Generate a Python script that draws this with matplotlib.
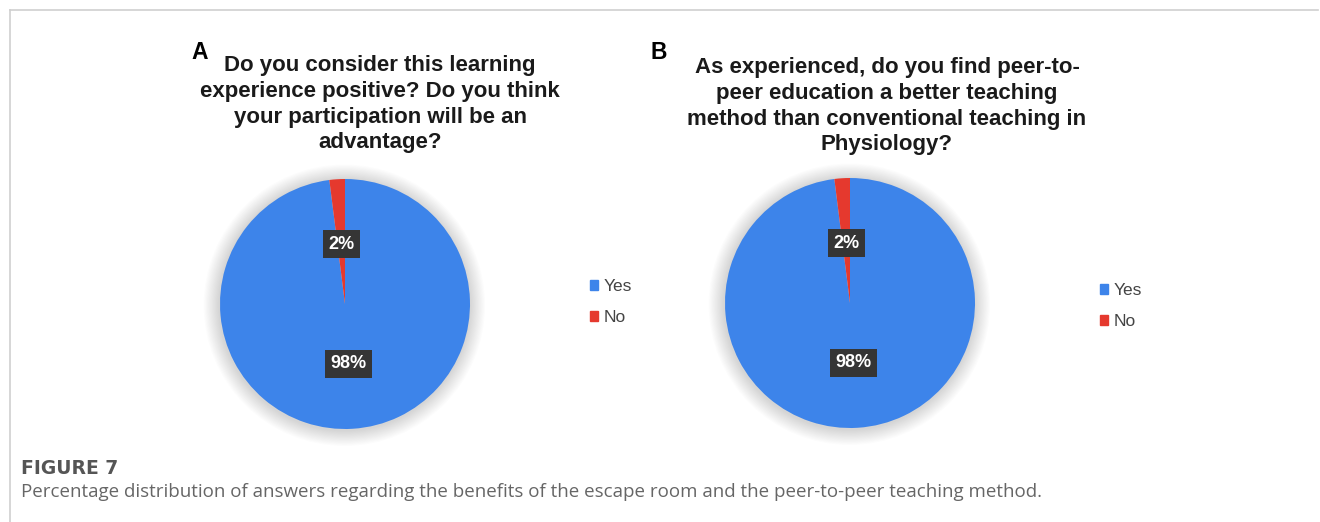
import matplotlib.pyplot as plt
from matplotlib.lines import Line2D
from matplotlib.patches import Circle, Patch

answers = ["Yes", "No"]
share_a = [98, 2]
share_b = [98, 2]
title_a = ["Do you consider this learning", "experience positive? Do you think",
           "your participation will be an", "advantage?"]
title_b = ["As experienced, do you find peer-to-", "peer education a better teaching",
           "method than conventional teaching in", "Physiology?"]
caption_head = "FIGURE 7"
caption_text = ("Percentage distribution of answers regarding the benefits of the "
                "escape room and the peer-to-peer teaching method.")

colors = ["#3d84ea", "#e5392e"]
W, H = 1320, 522
PAD = 1.15


def px_axes(fig, cx, cy, r):
    # cx, cy in pixels from top-left; r in pixels
    half = r * PAD
    return fig.add_axes([(cx - half) / W, (H - cy - half) / H, 2 * half / W, 2 * half / H])


def draw_pie(ax, values):
    # soft glow
    for k in range(14):
        ax.add_patch(Circle((-0.005, -0.01), 1.0 + 0.009 * (k + 1), color="#000000",
                            alpha=0.011, lw=0, zorder=0))
    wedges, _, autotexts = ax.pie(
        values, colors=colors, startangle=90, counterclock=False, radius=1.0,
        autopct=lambda p: f"{p:.0f}%", pctdistance=0.48,
        wedgeprops={"linewidth": 0},
        textprops={"color": "white", "weight": "bold", "size": 13,
                   "family": "Liberation Sans"},
    )
    for t in autotexts:
        t.set_bbox(dict(boxstyle="square,pad=0.3", fc="#353535", ec="none"))
        t.set_zorder(5)
    ax.set_xlim(-PAD, PAD)
    ax.set_ylim(-PAD, PAD)
    ax.set_aspect("equal")
    ax.axis("off")
    return wedges


def draw_title(fig, lines, cx, y0, step=25.5):
    for i, line in enumerate(lines):
        fig.text(cx / W, 1 - (y0 + i * step) / H, line, ha="center", va="center",
                 family="Liberation Sans", weight="bold", size=16, color="#1a1a1a")


fig = plt.figure(figsize=(W / 100, H / 100), dpi=100)

ax_a = px_axes(fig, 345, 304, 125)
draw_pie(ax_a, share_a)
ax_b = px_axes(fig, 850, 303, 125)
draw_pie(ax_b, share_b)

draw_title(fig, title_a, 380, 66)
draw_title(fig, title_b, 887, 68)
fig.text(191 / W, 1 - 41 / H, "A", ha="left", va="top", family="Liberation Sans",
         weight="bold", size=16.5, color="black")
fig.text(651 / W, 1 - 41 / H, "B", ha="left", va="top", family="Liberation Sans",
         weight="bold", size=16.5, color="black")

handles = [Patch(color=c, label=l) for c, l in zip(colors, answers)]
leg_kw = dict(frameon=False, handlelength=0.5, handleheight=0.5, handletextpad=0.3,
              labelspacing=0.95, prop={"family": "Liberation Sans", "size": 12.5},
              labelcolor="#444444", loc="center left")
fig.legend(handles=handles, bbox_to_anchor=(574 / W, 1 - 302 / H), **leg_kw)
fig.legend(handles=handles, bbox_to_anchor=(1084 / W, 1 - 306 / H), **leg_kw)

# frame lines (top and left)
fig.add_artist(Line2D([10 / W, 1318 / W], [1 - 10 / H, 1 - 10 / H], color="#cfcfcf", lw=1.2))
fig.add_artist(Line2D([10 / W, 10 / W], [1 - 10 / H, 0], color="#cfcfcf", lw=1.2))

fig.text(21 / W, 1 - 469 / H, caption_head, ha="left", va="center", family="DejaVu Sans",
         weight="bold", size=13.5, color="#555555")
fig.text(21 / W, 1 - 492 / H, caption_text, ha="left", va="center", family="Open Sans",
         size=13.5, color="#666666")

fig.savefig("out.png", dpi=100)
